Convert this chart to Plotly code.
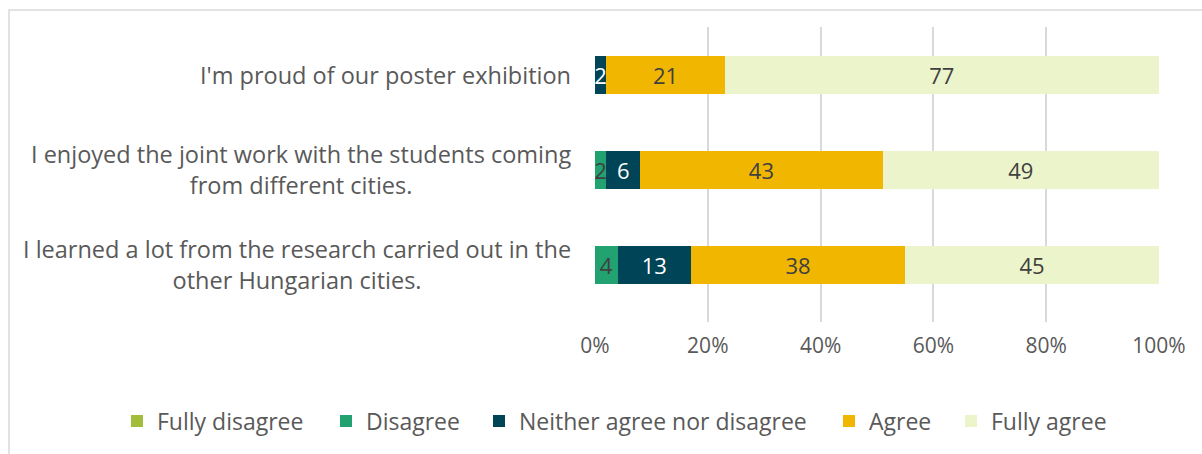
import plotly.graph_objects as go

# Survey statements (top to bottom) and response shares in percent
statements = [
    "I'm proud of our poster exhibition",
    "I enjoyed the joint work with the students coming<br>from different cities.",
    "I learned a lot from the research carried out in the<br>other Hungarian cities.",
]
responses = ["Fully disagree", "Disagree", "Neither agree nor disagree", "Agree", "Fully agree"]
fully_disagree = [0, 0, 0]
disagree = [0, 2, 4]
neither = [2, 6, 13]
agree = [21, 43, 38]
fully_agree = [77, 49, 45]
x_ticks = [0, 20, 40, 60, 80, 100]
x_tick_labels = ["0%", "20%", "40%", "60%", "80%", "100%"]

series = [fully_disagree, disagree, neither, agree, fully_agree]
colors = ["#a3bc3a", "#22a171", "#004457", "#f1b700", "#ecf4cb"]
label_colors = ["#404040", "#404040", "#ffffff", "#404040", "#404040"]

FONT = "Open Sans"
TEXT = "#595959"
y_pos = list(range(len(statements)))

# Left edge (in pixels) of each legend entry along the bottom row
legend_left_px = [117, 326, 479, 829, 951]
PLOT_L, PLOT_W = 595, 564

fig = go.Figure()
for k, (name, vals, col, lc) in enumerate(zip(responses, series, colors, label_colors)):
    fig.add_trace(go.Bar(
        name=name,
        x=vals,
        y=y_pos,
        orientation="h",
        marker=dict(color=col, line=dict(width=0)),
        width=0.4,
        text=[str(v) if v else "" for v in vals],
        textposition="inside",
        insidetextanchor="middle",
        textangle=0,
        textfont=dict(family=FONT, size=22, color=lc),
        hoverinfo="skip",
        legend="legend" if k == 0 else f"legend{k + 1}",
    ))

# Category labels, centred line-by-line and right-aligned to the axis
for i, s in enumerate(statements):
    fig.add_annotation(
        x=0, xref="paper", xanchor="right", xshift=-22,
        y=i, yref="y", yanchor="middle",
        text=s, showarrow=False, align="center",
        font=dict(family=FONT, size=23.5, color=TEXT),
    )

# Outer chart frame
fig.add_shape(type="rect", xref="paper", yref="paper",
              x0=-1.039, x1=1.2, y0=-0.6, y1=1.0576,
              line=dict(color="#d9d9d9", width=1.5), fillcolor="rgba(0,0,0,0)",
              layer="below")

legends = {}
for k, px in enumerate(legend_left_px):
    key = "legend" if k == 0 else f"legend{k + 1}"
    legends[key] = dict(
        orientation="h", xref="paper", yref="paper",
        x=(px - PLOT_L) / PLOT_W, xanchor="left", y=-0.336, yanchor="middle",
        font=dict(family=FONT, size=23, color=TEXT),
        itemwidth=30, bgcolor="rgba(0,0,0,0)",
    )

fig.update_layout(
    barmode="stack",
    width=1202, height=454,
    margin=dict(l=595, r=43, t=27, b=132),
    paper_bgcolor="white", plot_bgcolor="white",
    uniformtext=dict(minsize=22, mode="show"),
    showlegend=True,
    xaxis=dict(
        range=[0, 100], tickvals=x_ticks, ticktext=x_tick_labels,
        showgrid=True, gridcolor="#d9d9d9", gridwidth=2,
        zeroline=False, showline=False, ticks="",
        ticklabelstandoff=9,
        tickfont=dict(family=FONT, size=21, color=TEXT),
    ),
    yaxis=dict(
        range=[2.6, -0.5], showticklabels=False, showgrid=False,
        zeroline=False, showline=False, ticks="",
    ),
    **legends,
)

fig.write_html("out.html")
